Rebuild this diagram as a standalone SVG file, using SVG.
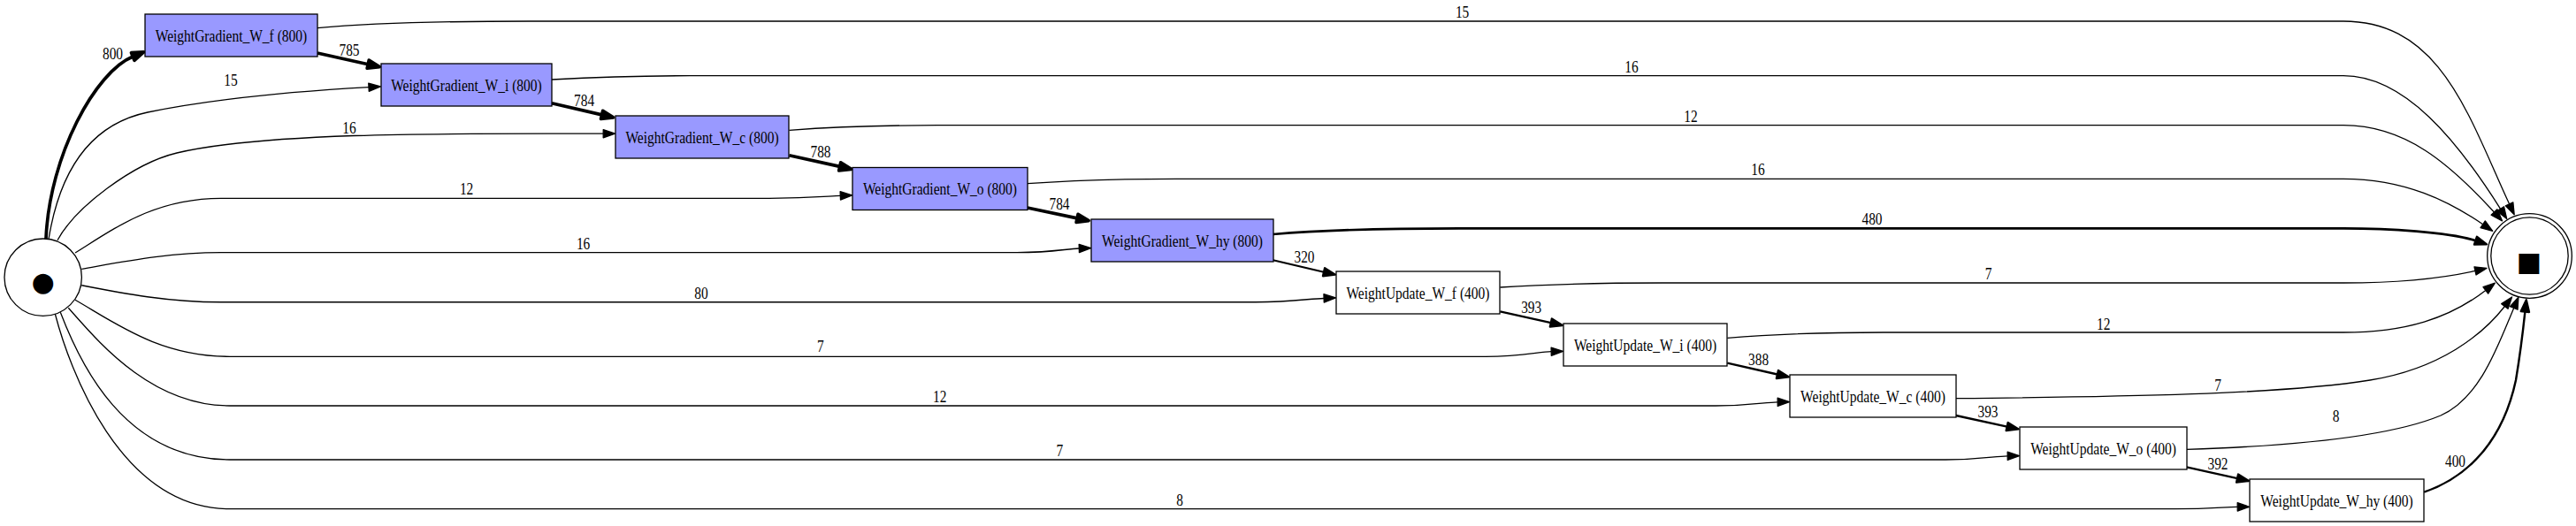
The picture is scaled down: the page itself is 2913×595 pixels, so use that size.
<svg xmlns="http://www.w3.org/2000/svg" width="2913" height="595" viewBox="0 0 2913 595">
<defs>
<marker id="m1" markerUnits="userSpaceOnUse" orient="auto" overflow="visible" refX="0" refY="0" markerWidth="20" markerHeight="20"><path d="M0,-4.67 L13.33,0 L0,4.67 Z" fill="#000" stroke="#000" stroke-width="1.3" stroke-linejoin="round"/></marker>
<marker id="m2" markerUnits="userSpaceOnUse" orient="auto" overflow="visible" refX="0" refY="0" markerWidth="20" markerHeight="20"><path d="M0,-4.67 L13.33,0 L0,4.67 Z" fill="#000" stroke="#000" stroke-width="2.3" stroke-linejoin="round"/></marker>
<marker id="m3" markerUnits="userSpaceOnUse" orient="auto" overflow="visible" refX="0" refY="0" markerWidth="20" markerHeight="20"><path d="M0,-4.67 L13.33,0 L0,4.67 Z" fill="#000" stroke="#000" stroke-width="3.7" stroke-linejoin="round"/></marker>
</defs>
<style>
text{font-family:"Liberation Serif","Times New Roman",serif;font-size:18px;text-anchor:middle;fill:#000}
.n rect{stroke:#000;stroke-width:1.3}
.g rect{fill:#9999ff}
.u rect{fill:#fff}
.c{fill:#fff;stroke:#000;stroke-width:1.3}
.e path{fill:none;stroke:#000}
.t1 path{stroke-width:1.3;marker-end:url(#m1)}
.t2 path{marker-end:url(#m2)}
.t3 path{stroke-width:3.7;marker-end:url(#m3)}
.sym{font-family:"DejaVu Sans",sans-serif;font-size:30px}
</style>
<rect width="2913" height="595" fill="#fff"/>
<g id="connectors" class="e">
<g id="e_s_wgf" class="t3"><path d="M52,270 C56,175 108.5,81 150.2,64"/><text x="127.5" y="67" textLength="23" lengthAdjust="spacingAndGlyphs">800</text></g>
<g id="e_s_wgi" class="t1"><path d="M55,270.7 C68,190 105,140 167,127 C250,110 340,103 417,98.7"/><text x="261" y="97" textLength="15.4" lengthAdjust="spacingAndGlyphs">15</text></g>
<g id="e_s_wgc" class="t1"><path d="M65,271.7 C85,235 150,185 200,173 C240,163.4 300,157 400,153.5 C500,150.5 600,151 682.2,151.2"/><text x="395" y="151" textLength="15.4" lengthAdjust="spacingAndGlyphs">16</text></g>
<g id="e_s_wgo" class="t1"><path d="M85,286 C130,258 175,224.3 250,224.3 L870,224.3 C915,224.3 935,222 950.3,221.4"/><text x="527.6" y="220" textLength="15.4" lengthAdjust="spacingAndGlyphs">12</text></g>
<g id="e_s_wghy" class="t1"><path d="M92.3,304.3 C140,296 190,285.7 250,285.7 L1150,285.7 C1190,285.7 1205,281.5 1220.3,281"/><text x="659.6" y="281.5" textLength="15.4" lengthAdjust="spacingAndGlyphs">16</text></g>
<g id="e_s_wuf" class="t1"><path style="stroke-width:1.5" d="M92.3,322.7 C140,332 190,341.7 250,341.7 L1420,341.7 C1460,341.7 1480,338 1497.1,337.4"/><text x="793" y="337.7" textLength="15.4" lengthAdjust="spacingAndGlyphs">80</text></g>
<g id="e_s_wui" class="t1"><path d="M85,339.3 C130,365 180,403.3 260,403.3 L1680,403.3 C1720,403.3 1740,398 1754.2,397.7"/><text x="927.8" y="398.3" textLength="7.7" lengthAdjust="spacingAndGlyphs">7</text></g>
<g id="e_s_wuc" class="t1"><path d="M77.3,348.3 C110,385 170,459 260,459 L1940,459 C1980,459 1995,455 2010.2,454.8"/><text x="1062.8" y="455" textLength="15.4" lengthAdjust="spacingAndGlyphs">12</text></g>
<g id="e_s_wuo" class="t1"><path d="M68.3,353.3 C90,410 140,520 260,520 L2200,520 C2240,520 2255,516 2270.2,515.8"/><text x="1198.4" y="516" textLength="7.7" lengthAdjust="spacingAndGlyphs">7</text></g>
<g id="e_s_wuhy" class="t1"><path d="M62.3,355 C78,415 135,575.7 260,575.7 L2460,575.7 C2500,575.7 2515,573.5 2530.2,573.4"/><text x="1334" y="571.7" textLength="7.7" lengthAdjust="spacingAndGlyphs">8</text></g>
<g id="e_wgf_wgi" class="t3"><path d="M359,60 L416.2,72.7"/><text x="395" y="63" textLength="23" lengthAdjust="spacingAndGlyphs">785</text></g>
<g id="e_wgi_wgc" class="t3"><path d="M624,116.7 L680.6,129.9"/><text x="660.6" y="120" textLength="23" lengthAdjust="spacingAndGlyphs">784</text></g>
<g id="e_wgc_wgo" class="t3"><path d="M892.5,175.7 L949.7,188.4"/><text x="928" y="178.3" textLength="23" lengthAdjust="spacingAndGlyphs">788</text></g>
<g id="e_wgo_wghy" class="t3"><path d="M1161.8,235 L1218.1,246.9"/><text x="1198" y="236.7" textLength="23" lengthAdjust="spacingAndGlyphs">784</text></g>
<g id="e_wghy_wuf" class="t2"><path style="stroke-width:2.2" d="M1439.6,294.3 L1497,307.7"/><text x="1475" y="297.3" textLength="23" lengthAdjust="spacingAndGlyphs">320</text></g>
<g id="e_wuf_wui" class="t2"><path style="stroke-width:2.4" d="M1696.4,352.3 L1753.8,365.1"/><text x="1731.7" y="354.3" textLength="23" lengthAdjust="spacingAndGlyphs">393</text></g>
<g id="e_wui_wuc" class="t2"><path style="stroke-width:2.4" d="M1953.3,410.7 L2009.9,423.5"/><text x="1988.6" y="413.3" textLength="23" lengthAdjust="spacingAndGlyphs">388</text></g>
<g id="e_wuc_wuo" class="t2"><path style="stroke-width:2.4" d="M2211.8,470 L2269.6,482.6"/><text x="2248" y="471.7" textLength="23" lengthAdjust="spacingAndGlyphs">393</text></g>
<g id="e_wuo_wuhy" class="t2"><path style="stroke-width:2.4" d="M2472.6,528.3 L2530,541.1"/><text x="2508" y="530.7" textLength="23" lengthAdjust="spacingAndGlyphs">392</text></g>
<g id="e_wgf_end" class="t1"><path d="M359,31.7 C420,26 500,24 600,24 L2650,24 C2760,24 2791.4,131 2837.6,230.8"/><text x="1653.6" y="20" textLength="15.4" lengthAdjust="spacingAndGlyphs">15</text></g>
<g id="e_wgi_end" class="t1"><path d="M624,90 C680,87 720,85.7 780,85.7 L2650,85.7 C2720,85.7 2779.5,160.2 2827.6,236.3"/><text x="1845" y="81.5" textLength="15.4" lengthAdjust="spacingAndGlyphs">16</text></g>
<g id="e_wgc_end" class="t1"><path d="M892.5,147.3 C950,143 1000,141.7 1060,141.7 L2650,141.7 C2720,141.7 2770,185 2820.5,240"/><text x="1912" y="137.5" textLength="15.4" lengthAdjust="spacingAndGlyphs">12</text></g>
<g id="e_wgo_end" class="t1"><path d="M1161.8,207.7 C1220,203.5 1270,202.3 1330,202.3 L2650,202.3 C2720,202.3 2770,228 2807.7,253.8"/><text x="1988" y="198" textLength="15.4" lengthAdjust="spacingAndGlyphs">16</text></g>
<g id="e_wghy_end" class="t2"><path style="stroke-width:2.7" d="M1439.6,265 C1500,260 1560,258.3 1650,258.3 L2650,258.3 C2700,258.3 2770,262.5 2799.4,272.2"/><text x="2117" y="254" textLength="23" lengthAdjust="spacingAndGlyphs">480</text></g>
<g id="e_wuf_end" class="t1"><path d="M1696.4,325 C1760,321 1800,320 1880,320 L2650,320 C2720,320 2765,314 2799,306.4"/><text x="2248.5" y="316" textLength="7.7" lengthAdjust="spacingAndGlyphs">7</text></g>
<g id="e_wui_end" class="t1"><path d="M1953.3,382.3 C2010,377.5 2060,376 2130,376 L2650,376 C2720,376 2770,360 2810.8,328.4"/><text x="2378.7" y="372.7" textLength="15.4" lengthAdjust="spacingAndGlyphs">12</text></g>
<g id="e_wuc_end" class="t1"><path d="M2211.8,450.7 C2400,449 2580,446 2680,430 C2760,417 2808,378 2832.4,346.5"/><text x="2508" y="441.7" textLength="7.7" lengthAdjust="spacingAndGlyphs">7</text></g>
<g id="e_wuo_end" class="t1"><path d="M2472.6,508.3 C2580,505 2700,495 2760,470 C2805,450 2825,390 2842.7,348.4"/><text x="2641.7" y="477.3" textLength="7.7" lengthAdjust="spacingAndGlyphs">8</text></g>
<g id="e_wuhy_end" class="t2"><path style="stroke-width:2.4" d="M2741.2,556.7 C2790,540 2830,500 2845,430 C2850,400 2853,375 2855.4,352.5"/><text x="2776.5" y="527.7" textLength="23" lengthAdjust="spacingAndGlyphs">400</text></g>
</g>
<g id="start"><circle class="c" cx="48.7" cy="313.7" r="43.7"/><text class="sym" x="48.7" y="328.5">●</text></g>
<g id="end"><circle class="c" cx="2860.5" cy="289.5" r="47.8"/><circle class="c" cx="2860.5" cy="289.5" r="43.7"/><text class="sym" x="2859.7" y="305.5">■</text></g>
<g id="WeightGradient_W_f" class="n g"><rect x="164" y="16" width="195" height="48"/><text x="261.5" y="46.5" textLength="171.5" lengthAdjust="spacingAndGlyphs">WeightGradient_W_f (800)</text></g>
<g id="WeightGradient_W_i" class="n g"><rect x="431" y="72" width="193" height="48"/><text x="527.5" y="102.5" textLength="170.6" lengthAdjust="spacingAndGlyphs">WeightGradient_W_i (800)</text></g>
<g id="WeightGradient_W_c" class="n g"><rect x="696" y="131" width="196" height="48"/><text x="794" y="161.5" textLength="173.2" lengthAdjust="spacingAndGlyphs">WeightGradient_W_c (800)</text></g>
<g id="WeightGradient_W_o" class="n g"><rect x="964" y="189.5" width="198" height="48"/><text x="1063" y="220" textLength="174.1" lengthAdjust="spacingAndGlyphs">WeightGradient_W_o (800)</text></g>
<g id="WeightGradient_W_hy" class="n g"><rect x="1234" y="248" width="206" height="48"/><text x="1337" y="278.5" textLength="181.8" lengthAdjust="spacingAndGlyphs">WeightGradient_W_hy (800)</text></g>
<g id="WeightUpdate_W_f" class="n u"><rect x="1511" y="307" width="185" height="48"/><text x="1603.5" y="337.5" textLength="162.1" lengthAdjust="spacingAndGlyphs">WeightUpdate_W_f (400)</text></g>
<g id="WeightUpdate_W_i" class="n u"><rect x="1768" y="366" width="185" height="48"/><text x="1860.5" y="396.5" textLength="161.2" lengthAdjust="spacingAndGlyphs">WeightUpdate_W_i (400)</text></g>
<g id="WeightUpdate_W_c" class="n u"><rect x="2024" y="424" width="188" height="48"/><text x="2118" y="454.5" textLength="163.8" lengthAdjust="spacingAndGlyphs">WeightUpdate_W_c (400)</text></g>
<g id="WeightUpdate_W_o" class="n u"><rect x="2284" y="483" width="189" height="48"/><text x="2378.5" y="513.5" textLength="164.7" lengthAdjust="spacingAndGlyphs">WeightUpdate_W_o (400)</text></g>
<g id="WeightUpdate_W_hy" class="n u"><rect x="2544" y="542" width="197" height="48"/><text x="2642.5" y="572.5" textLength="172.4" lengthAdjust="spacingAndGlyphs">WeightUpdate_W_hy (400)</text></g>
</svg>
